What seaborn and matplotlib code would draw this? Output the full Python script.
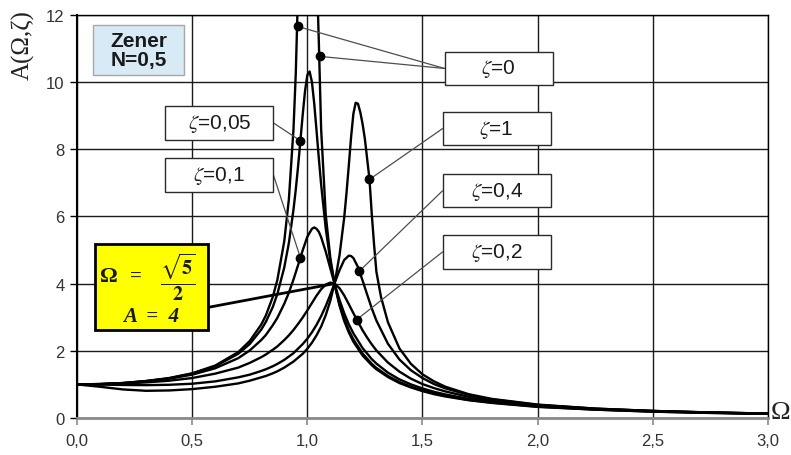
import numpy as np
import seaborn as sns
import matplotlib.pyplot as plt
from matplotlib.patches import Rectangle
from matplotlib.ticker import FuncFormatter, MultipleLocator

sns.set_theme()
sns.set_style("white")
plt.rcParams['font.family'] = ['Liberation Sans', 'DejaVu Sans']
plt.rcParams['mathtext.fontset'] = 'stix'

# amplitude curves A(Omega, zeta)
# zeta = 0 (two branches around the resonance at Omega = 1)
omega_z0_left = [0.0, 0.1, 0.2, 0.3, 0.4, 0.5, 0.6, 0.7, 0.75, 0.8, 0.82, 0.85, 0.87, 0.9, 0.92, 0.94,
                 0.95, 0.96, 0.97]
amp_z0_left = [1.0, 1.01, 1.04, 1.10, 1.19, 1.33, 1.56, 1.96, 2.29, 2.78, 3.05, 3.60, 4.11, 5.26, 6.51, 8.59,
               10.26, 12.76, 16.9]
omega_z0_right = [1.03, 1.04, 1.05, 1.06, 1.08, 1.1, 1.12, 1.14, 1.16, 1.18, 1.2, 1.24, 1.28, 1.3,
                  1.35, 1.4, 1.45, 1.5, 1.55, 1.6, 1.7, 1.8, 2.0, 2.25, 2.5, 2.75, 3.0]
amp_z0_right = [18.0, 13.5, 11.2, 8.6, 6.05, 4.76, 3.93, 3.34, 2.89, 2.55, 2.27, 1.86, 1.57, 1.45,
                1.22, 1.04, 0.91, 0.80, 0.71, 0.64, 0.53, 0.45, 0.33, 0.25, 0.19, 0.15, 0.125]

omega_z005 = [0.0, 0.1, 0.2, 0.3, 0.4, 0.5, 0.6, 0.7, 0.75, 0.8, 0.82, 0.85, 0.87, 0.9, 0.92, 0.94,
              0.95, 0.96, 0.97, 0.98, 0.99, 1.0, 1.01, 1.02, 1.03, 1.04, 1.05, 1.06, 1.08, 1.1, 1.12,
              1.14, 1.16, 1.18, 1.2, 1.24, 1.28, 1.3, 1.35, 1.4, 1.45, 1.5, 1.55, 1.6, 1.7, 1.8, 2.0,
              2.25, 2.5, 2.75, 3.0]
amp_z005 = [1.0, 1.01, 1.04, 1.10, 1.18, 1.32, 1.54, 1.91, 2.20, 2.63, 2.86, 3.30, 3.69, 4.48, 5.21, 6.20,
            6.80, 7.49, 8.25, 9.02, 9.72, 10.20, 10.31, 10.00, 9.36, 8.56, 7.73, 6.95, 5.64, 4.67, 3.94,
            3.38, 2.96, 2.61, 2.34, 1.92, 1.61, 1.49, 1.25, 1.07, 0.93, 0.82, 0.73, 0.66, 0.54, 0.46, 0.34,
            0.25, 0.19, 0.155, 0.127]

omega_z01 = [0.0, 0.1, 0.2, 0.3, 0.4, 0.5, 0.6, 0.7, 0.75, 0.8, 0.82, 0.85, 0.87, 0.9, 0.92, 0.94,
             0.96, 0.98, 1.0, 1.02, 1.03, 1.04, 1.05, 1.06, 1.08, 1.1, 1.12, 1.14, 1.16, 1.18, 1.2,
             1.24, 1.28, 1.3, 1.35, 1.4, 1.45, 1.5, 1.55, 1.6, 1.7, 1.8, 2.0, 2.25, 2.5, 2.75, 3.0]
amp_z01 = [1.0, 1.01, 1.04, 1.09, 1.17, 1.29, 1.48, 1.78, 2.01, 2.32, 2.47, 2.76, 2.98, 3.40, 3.73, 4.12,
           4.55, 4.99, 5.39, 5.63, 5.67, 5.63, 5.54, 5.38, 4.95, 4.45, 3.95, 3.51, 3.12, 2.79, 2.52,
           2.08, 1.75, 1.62, 1.35, 1.15, 1.00, 0.88, 0.78, 0.70, 0.57, 0.48, 0.355, 0.26, 0.20, 0.159, 0.130]

omega_z02 = [0.0, 0.1, 0.2, 0.3, 0.4, 0.5, 0.6, 0.7, 0.75, 0.8, 0.82, 0.85, 0.87, 0.9, 0.92, 0.94,
             0.96, 0.98, 1.0, 1.02, 1.04, 1.06, 1.08, 1.1, 1.12, 1.14, 1.16, 1.18, 1.2, 1.22, 1.24,
             1.26, 1.28, 1.3, 1.35, 1.4, 1.45, 1.5, 1.55, 1.6, 1.7, 1.8, 2.0, 2.25, 2.5, 2.75, 3.0]
amp_z02 = [1.0, 1.006, 1.025, 1.06, 1.11, 1.19, 1.32, 1.50, 1.64, 1.81, 1.89, 2.03, 2.13, 2.32, 2.46, 2.62,
           2.80, 2.99, 3.20, 3.42, 3.64, 3.83, 3.97, 4.03, 3.99, 3.86, 3.65, 3.39, 3.12, 2.86, 2.61,
           2.39, 2.19, 2.01, 1.65, 1.38, 1.17, 1.01, 0.89, 0.79, 0.63, 0.52, 0.38, 0.27, 0.21, 0.163, 0.132]

omega_z04 = [0.0, 0.1, 0.2, 0.3, 0.4, 0.5, 0.6, 0.7, 0.75, 0.8, 0.82, 0.85, 0.87, 0.9, 0.94, 0.98,
             1.0, 1.02, 1.04, 1.06, 1.08, 1.1, 1.12, 1.14, 1.16, 1.18, 1.19, 1.2, 1.22, 1.24, 1.26,
             1.28, 1.3, 1.35, 1.4, 1.45, 1.5, 1.55, 1.6, 1.7, 1.8, 2.0, 2.25, 2.5, 2.75, 3.0]
amp_z04 = [1.0, 0.995, 0.983, 0.978, 0.989, 1.02, 1.09, 1.21, 1.29, 1.40, 1.45, 1.54, 1.61, 1.73, 1.93, 2.20,
           2.36, 2.55, 2.77, 3.03, 3.33, 3.67, 4.04, 4.40, 4.70, 4.83, 4.82, 4.76, 4.49, 4.09, 3.67,
           3.26, 2.90, 2.21, 1.74, 1.42, 1.19, 1.01, 0.88, 0.69, 0.555, 0.39, 0.28, 0.21, 0.164, 0.133]

omega_z1 = [0.0, 0.1, 0.2, 0.3, 0.4, 0.5, 0.6, 0.7, 0.75, 0.8, 0.82, 0.85, 0.87, 0.9, 0.94, 0.98,
            1.0, 1.02, 1.04, 1.06, 1.08, 1.1, 1.12, 1.14, 1.16, 1.17, 1.18, 1.19, 1.2, 1.21, 1.22,
            1.23, 1.24, 1.25, 1.26, 1.27, 1.28, 1.29, 1.3, 1.32, 1.35, 1.4, 1.45, 1.5, 1.55, 1.6,
            1.7, 1.8, 2.0, 2.25, 2.5, 2.75, 3.0]
amp_z1 = [1.0, 0.93, 0.85, 0.81, 0.82, 0.86, 0.93, 1.03, 1.11, 1.21, 1.25, 1.33, 1.39, 1.50, 1.68, 1.91,
          2.06, 2.24, 2.46, 2.72, 3.06, 3.49, 4.06, 4.85, 5.95, 6.68, 7.50, 8.35, 9.05, 9.38, 9.35,
          9.10, 8.75, 8.30, 7.70, 7.10, 6.05, 5.15, 4.35, 3.60, 2.85, 2.07, 1.61, 1.30, 1.09, 0.93,
          0.71, 0.57, 0.40, 0.28, 0.21, 0.165, 0.133]

curves = [(omega_z0_left, amp_z0_left), (omega_z0_right, amp_z0_right),
          (omega_z005, amp_z005), (omega_z01, amp_z01), (omega_z02, amp_z02),
          (omega_z04, amp_z04), (omega_z1, amp_z1)]

# callouts: label, box centre, dots on the curves
callout_labels = [r'$\zeta$=0', r'$\zeta$=1', r'$\zeta$=0,4', r'$\zeta$=0,2', r'$\zeta$=0,05', r'$\zeta$=0,1']
callout_box_x = [1.831, 1.822, 1.822, 1.822, 0.618, 0.618]
callout_box_y = [10.40, 8.61, 6.76, 4.94, 8.78, 7.23]
callout_dots = [[(0.958, 11.65), (1.053, 10.76)], [(1.27, 7.1)], [(1.226, 4.37)],
                [(1.215, 2.93)], [(0.97, 8.25)], [(0.97, 4.77)]]

invariant_omega = np.sqrt(5) / 2
invariant_amp = 4.0

BOX_W, BOX_H = 0.47, 0.99

fig = plt.figure(figsize=(7.91, 4.56), dpi=100)
ax = fig.add_axes([0.0973, 0.0811, 0.8736, 0.8845])

for om, amp in curves:
    sns.lineplot(x=om, y=amp, ax=ax, color='black', linewidth=1.7,
                 estimator=None, sort=False, zorder=3)

ax.set_xlim(0, 3.0)
ax.set_ylim(0, 12)
ax.xaxis.set_major_locator(MultipleLocator(0.5))
ax.yaxis.set_major_locator(MultipleLocator(2))
ax.xaxis.set_major_formatter(FuncFormatter(lambda v, _: f'{v:.1f}'.replace('.', ',')))
ax.yaxis.set_major_formatter(FuncFormatter(lambda v, _: f'{v:.0f}'))
ax.grid(True, color='#1a1a1a', linewidth=1.0)
ax.set_axisbelow(True)
for side in ['top', 'right', 'left']:
    ax.spines[side].set_color('black')
    ax.spines[side].set_linewidth(1.0)
ax.spines['left'].set_linewidth(1.5)
ax.spines['bottom'].set_color('#8a8a8a')
ax.spines['bottom'].set_linewidth(2.0)
ax.tick_params(axis='x', bottom=True, length=5, width=1.2, color='#8a8a8a',
               labelsize=12, labelcolor='#333333', pad=6)
ax.tick_params(axis='y', left=True, length=5, width=1.0, color='black',
               labelsize=12, labelcolor='#333333', pad=4)
ax.set_xlabel('')
ax.set_ylabel('')

fig.text(23 / 791, 1 - 45 / 456, 'A(Ω,ζ)', rotation=90, ha='center', va='center',
         fontsize=18, family='Liberation Serif', color='#222222')
ax.text(1.004, 0.015, 'Ω', transform=ax.transAxes, ha='left', va='center',
        fontsize=19, family='Liberation Serif', color='#222222')

# title box
ax.add_patch(Rectangle((0.069, 10.21), 0.397, 1.47, facecolor='#d8eaf5',
                       edgecolor='#a8a8a8', linewidth=1.0, zorder=5))
ax.text(0.267, 10.94, 'Zener\nN=0,5', ha='center', va='center', fontsize=15,
        fontweight='bold', linespacing=1.0, color='#1a1a1a', zorder=6)

# callouts
for label, bx, by, dots in zip(callout_labels, callout_box_x, callout_box_y, callout_dots):
    anchor_x = bx - BOX_W / 2 if bx > 1.2 else bx + BOX_W / 2
    for dx, dy in dots:
        ax.plot([anchor_x, dx], [by, dy], color='#4d4d4d', linewidth=0.9, zorder=4)
        ax.plot(dx, dy, 'o', color='black', markersize=6, zorder=6)
    ax.add_patch(Rectangle((bx - BOX_W / 2, by - BOX_H / 2), BOX_W, BOX_H,
                           facecolor='white', edgecolor='#2a2a2a', linewidth=1.0, zorder=5))
    ax.text(bx, by, label, ha='center', va='center', fontsize=15, color='#1a1a1a', zorder=6)

# invariant point box
ax.plot([0.568, invariant_omega], [3.29, invariant_amp], color='black', linewidth=2.0, zorder=4)
ax.add_patch(Rectangle((0.079, 2.62), 0.489, 2.56, facecolor='#ffff00',
                       edgecolor='black', linewidth=2.0, zorder=5))
serif_bold = dict(family='Liberation Serif', fontweight='bold', color='#1a1a1a', zorder=6)
ax.text(0.138, 4.24, 'Ω', ha='center', va='center', fontsize=16, **serif_bold)
ax.text(0.256, 4.22, '=', ha='center', va='center', fontsize=15, **serif_bold)
ax.text(0.438, 4.22, r'$\dfrac{\sqrt{\mathbf{5}}}{\mathbf{2}}$', ha='center', va='center',
        fontsize=14.5, color='#1a1a1a', zorder=6)
ax.text(0.32, 3.04, 'A  =  4', ha='center', va='center', fontsize=15,
        fontstyle='italic', **serif_bold)

plt.savefig('out.png', dpi=100)
